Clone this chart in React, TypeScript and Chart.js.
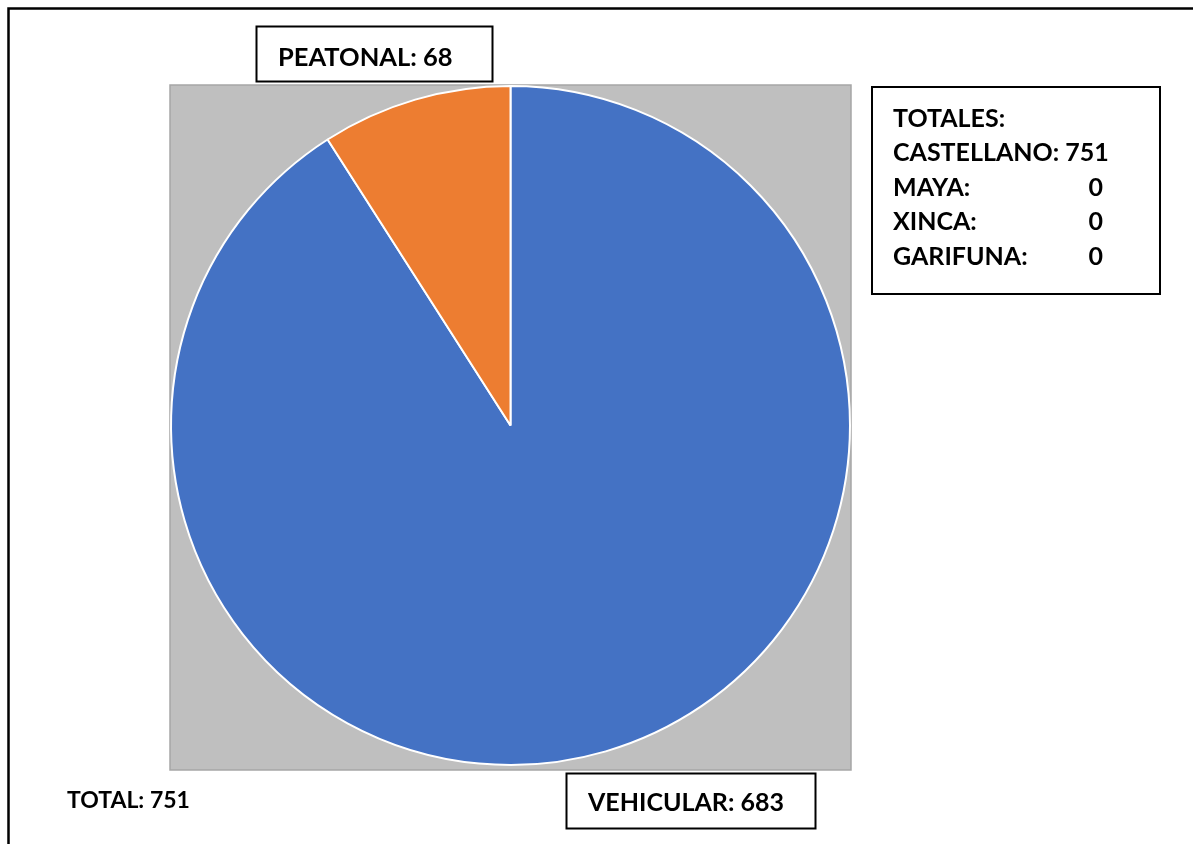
import React, { useEffect, useRef } from "react";
import { Chart, registerables } from "chart.js";

Chart.register(...registerables);

const categories = ["VEHICULAR", "PEATONAL"];
const values = [683, 68];
const sliceColors = ["#4472C4", "#ED7D31"];
const languages = ["CASTELLANO", "MAYA", "XINCA", "GARIFUNA"];
const languageTotals = [751, 0, 0, 0];

const FONT = "Lato, 'Open Sans', sans-serif";

const framePlugin = {
  id: "frame",
  beforeDraw(chart: any) {
    const { ctx, chartArea } = chart;
    ctx.save();
    ctx.fillStyle = "#ffffff";
    ctx.fillRect(0, 0, chart.width, chart.height);
    // outer frame
    ctx.strokeStyle = "#000000";
    ctx.lineWidth = 2.5;
    ctx.strokeRect(8.5, 8.5, chart.width + 20, chart.height + 20);
    // plot area
    ctx.fillStyle = "#BFBFBF";
    ctx.fillRect(chartArea.left, chartArea.top, chartArea.width, chartArea.height + 4);
    ctx.strokeStyle = "#A6A6A6";
    ctx.lineWidth = 1.5;
    ctx.strokeRect(chartArea.left, chartArea.top, chartArea.width, chartArea.height + 4);
    ctx.restore();
  },
  afterDraw(chart: any) {
    const { ctx } = chart;
    ctx.save();
    ctx.fillStyle = "#000";
    ctx.strokeStyle = "#000";
    ctx.textBaseline = "alphabetic";

    const box = (x: number, y: number, w: number, h: number) => {
      ctx.fillStyle = "#fff";
      ctx.fillRect(x, y, w, h);
      ctx.lineWidth = 2;
      ctx.strokeStyle = "#000";
      ctx.strokeRect(x, y, w, h);
      ctx.fillStyle = "#000";
    };

    // PEATONAL label
    box(256.5, 26.5, 236, 55);
    ctx.font = `bold 25.5px ${FONT}`;
    ctx.textAlign = "left";
    ctx.fillText(`${categories[1]}: ${values[1]}`, 278, 66);

    // VEHICULAR label
    box(566.5, 773.5, 249, 55);
    ctx.font = `bold 25px ${FONT}`;
    ctx.fillText(`${categories[0]}: ${values[0]}`, 588, 811);

    // TOTAL
    const total = values.reduce((a, b) => a + b, 0);
    ctx.font = `bold 23px ${FONT}`;
    ctx.fillText(`TOTAL: ${total}`, 67, 808);

    // TOTALES box
    box(872, 87, 288, 207);
    ctx.font = `bold 25px ${FONT}`;
    ctx.textAlign = "left";
    ctx.fillText("TOTALES:", 893, 127);
    const baselines = [161, 196, 230, 265];
    languages.forEach((lang, i) => {
      if (i === 0) {
        ctx.textAlign = "left";
        ctx.fillText(`${lang}: ${languageTotals[i]}`, 893, baselines[i]);
      } else {
        ctx.textAlign = "left";
        ctx.fillText(`${lang}:`, 893, baselines[i]);
        ctx.textAlign = "right";
        ctx.fillText(`${languageTotals[i]}`, 1103, baselines[i]);
      }
    });
    ctx.restore();
  },
};

export default function App() {
  const ref = useRef<HTMLCanvasElement | null>(null);
  useEffect(() => {
    if (!ref.current) return;
    const chart = new Chart(ref.current, {
      type: "pie",
      data: {
        labels: categories,
        datasets: [
          {
            data: values,
            backgroundColor: sliceColors,
            borderColor: "#ffffff",
            borderWidth: 2,
          },
        ],
      },
      options: {
        responsive: false,
        animation: false,
        devicePixelRatio: 1,
        layout: { padding: { left: 170, top: 85, right: 342, bottom: 78 } },
        plugins: {
          legend: { display: false },
          tooltip: { enabled: false },
          title: { display: false },
        },
      },
      plugins: [framePlugin],
    });
    return () => chart.destroy();
  }, []);
  return (
    <canvas
      ref={ref}
      width={1193}
      height={844}
      style={{ position: "fixed", left: 0, top: 0, width: 1193, height: 844 }}
    />
  );
}
